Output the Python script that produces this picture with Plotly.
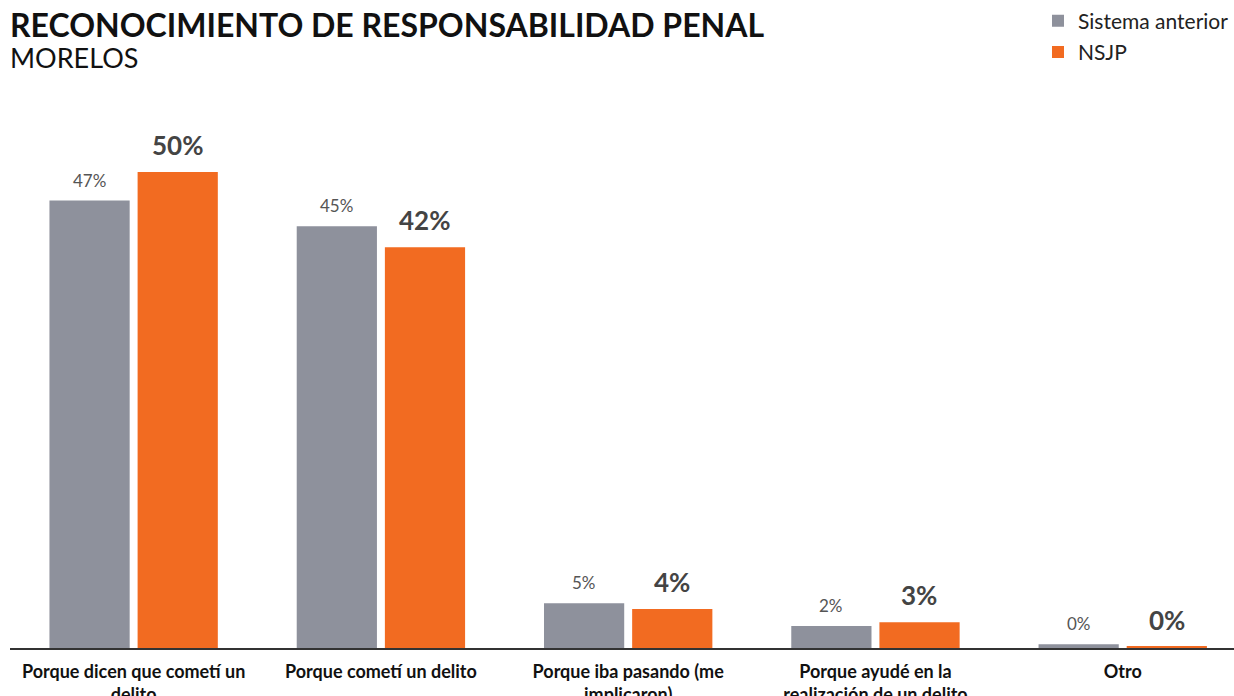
import plotly.graph_objects as go

categories = [
    "Porque dicen que cometí un<br>delito",
    "Porque cometí un delito",
    "Porque iba pasando (me<br>implicaron)",
    "Porque ayudé en la<br>realización de un delito",
    "Otro",
]
anterior = [47.0, 44.3, 4.7, 2.3, 0.4]
nsjp = [50.0, 42.1, 4.1, 2.7, 0.15]
anterior_labels = ["47%", "45%", "5%", "2%", "0%"]
nsjp_labels = ["50%", "42%", "4%", "3%", "0%"]

GRAY = "#8e919c"
ORANGE = "#f26b21"
FONT = "Lato, 'Open Sans', sans-serif"

xs = list(range(len(categories)))

fig = go.Figure()
fig.add_trace(go.Bar(x=xs, y=anterior, name="Sistema anterior", legendgroup="a",
                     marker=dict(color=GRAY, line=dict(width=0))))
fig.add_trace(go.Bar(x=xs, y=nsjp, name="NSJP", legendgroup="b",
                     marker=dict(color=ORANGE, line=dict(width=0))))

annotations = []
for i in xs:
    annotations.append(dict(x=i, y=anterior[i], xref="x", yref="y", xshift=-44, yshift=8,
                            text=anterior_labels[i], showarrow=False, yanchor="bottom",
                            font=dict(family=FONT, size=17, color="#555555")))
    annotations.append(dict(x=i, y=nsjp[i], xref="x", yref="y", xshift=44, yshift=9,
                            text="<b>" + nsjp_labels[i] + "</b>", showarrow=False, yanchor="bottom",
                            font=dict(family=FONT, size=26, color="#444444")))

annotations += [
    dict(x=0, y=1, xref="paper", yref="paper", xanchor="left", yanchor="top",
         xshift=-2, yshift=97,
         text="<b>RECONOCIMIENTO DE RESPONSABILIDAD PENAL</b>", showarrow=False,
         font=dict(family=FONT, size=32, color="#111111")),
    dict(x=0, y=1, xref="paper", yref="paper", xanchor="left", yanchor="top",
         xshift=-2, yshift=61,
         text="MORELOS", showarrow=False,
         font=dict(family=FONT, size=27, color="#111111")),
]

fig.update_layout(
    width=1234, height=696,
    margin=dict(l=10, r=0, t=100, b=48, autoexpand=False),
    paper_bgcolor="white", plot_bgcolor="white",
    barmode="group", bargap=0.287, bargroupgap=0.09,
    font=dict(family=FONT, color="#111111"),
    legend=dict(x=1, xref="paper", xanchor="right", y=1.1815, yref="paper", yanchor="top",
                font=dict(family=FONT, size=21, color="#222222"),
                bgcolor="rgba(0,0,0,0)", itemclick=False, tracegroupgap=1),
    xaxis=dict(tickmode="array", tickvals=xs, ticktext=["<b>" + c + "</b>" for c in categories],
               range=[-0.5, 4.45], showgrid=False, zeroline=False, automargin=False,
               showline=True, linecolor="#333333", linewidth=2,
               ticks="outside", ticklen=6, tickcolor="rgba(0,0,0,0)",
               tickfont=dict(family=FONT, size=18, color="#111111")),
    yaxis=dict(range=[0, 57.56], visible=False, showgrid=False, zeroline=False, automargin=False),
    annotations=annotations,
)

fig.write_html("out.html", config={"displayModeBar": False},
               post_script="document.body.style.margin='0';")
